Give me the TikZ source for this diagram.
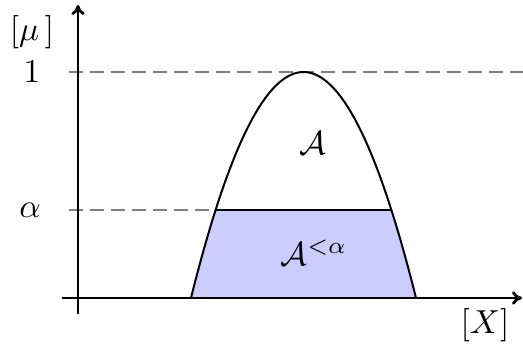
\documentclass[tikz,border=0pt]{standalone}
\usetikzlibrary{arrows.meta}
\begin{document}
\begin{tikzpicture}[x=0.3pt,y=-0.3pt,
  axis/.style={line width=0.85pt,-{To[length=3pt,width=4pt]}},
  guide/.style={gray,line width=0.55pt,dash pattern=on 4.2pt off 2.1pt},
  curve/.style={line width=0.6pt},
  lbl/.style={inner sep=0pt}]
\useasboundingbox (0,0) rectangle (523,343);
% named points
\coordinate (xs) at (62,298);
\coordinate (xe) at (522,298);
\coordinate (ys) at (78,314);
\coordinate (ye) at (78,5);
\coordinate (ones) at (69,72);
\coordinate (onee) at (523,72);
\coordinate (als) at (69,210);
\coordinate (alL) at (215.6,210);
\coordinate (alR) at (391.4,210);
% fill
\fill[blue!20] plot[domain=-1:-0.7814,samples=20] ({303.5+112.5*\x},{298-226*(1-\x*\x)})
  -- plot[domain=0.7814:1,samples=20] ({303.5+112.5*\x},{298-226*(1-\x*\x)}) -- cycle;
% guides
\draw[guide] (ones) -- (onee);
\draw[guide] (als) -- (alL);
% curve and alpha cut
\draw[curve] plot[domain=-1:1,samples=100] ({303.5+112.5*\x},{298-226*(1-\x*\x)});
\draw[curve] (alL) -- (alR);
% axes
\draw[axis] (xs) -- (xe);
\draw[axis] (ys) -- (ye);
% labels
\node[lbl] (mu) at (32,32) {$[\mu\,]$};
\node[lbl] (one) at (32,72) {$1$};
\node[lbl] (al) at (30,210) {$\alpha$};
\node[lbl] (X) at (485,325) {$[X]$};
\node[lbl] (A) at (313,143) {$\mathcal{A}$};
\node[lbl] (Aa) at (314,253) {$\mathcal{A}^{<\alpha}$};
\end{tikzpicture}
\end{document}
